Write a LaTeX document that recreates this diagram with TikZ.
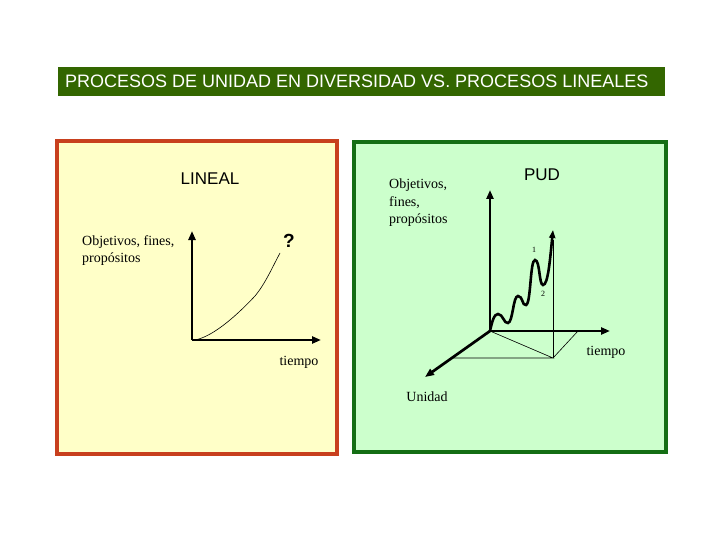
\documentclass[tikz,border=0pt]{standalone}
\usepackage{fontspec}
\setmainfont{Liberation Serif}
\newfontfamily\arialf{Liberation Sans}
\usetikzlibrary{arrows.meta}
\definecolor{titlegreen}{RGB}{51,102,0}
\definecolor{lyellow}{RGB}{255,255,200}
\definecolor{redborder}{RGB}{200,64,30}
\definecolor{lgreen}{RGB}{204,255,204}
\definecolor{dgreen}{RGB}{20,110,20}
\tikzset{
  axis/.style={line width=2.7pt,-{Triangle[length=9pt,width=7pt]}},
  thinline/.style={line width=0.6pt},
  serif/.style={font=\fontsize{14}{17.5}\selectfont, inner sep=0pt},
  sans/.style={font=\arialf\fontsize{17}{19}\selectfont, inner sep=0pt},
  tiny/.style={font=\fontsize{8}{9}\selectfont, inner sep=0pt}
}
\begin{document}
\begin{tikzpicture}[x=1pt,y=-1pt]
\useasboundingbox (0,0) rectangle (720,540);
\fill[white] (0,0) rectangle (720,540);
% title
\node[fill=titlegreen, minimum width=607pt, minimum height=29pt, anchor=north west, inner sep=0pt] (titlebar) at (58,67) {};
\node[anchor=west, text=white, font=\arialf\fontsize{18}{20}\selectfont, inner sep=0pt] (title) at (65,81.5) {PROCESOS DE UNIDAD EN DIVERSIDAD VS. PROCESOS LINEALES};
% boxes
\draw[redborder, fill=lyellow, line width=4pt] (57,141) rectangle (337,454);
\draw[dgreen, fill=lgreen, line width=4pt] (354,142) rectangle (666,452);
% left chart
\node[sans] (lineal) at (210,179) {LINEAL};
\coordinate (LO) at (192,340);
\coordinate (LY) at (192,231);
\coordinate (LX) at (321,340);
\draw[axis] (LO) -- (LY);
\draw[axis] (LO) -- (LX);
\draw[thinline] (195,340) .. controls (215,336) and (240,312) .. (255,296) .. controls (265,284) and (272,268) .. (280,253);
\node[font=\arialf\bfseries\fontsize{19}{21}\selectfont, inner sep=0pt] (q) at (289,241) {?};
\node[serif, anchor=north west, align=left] (lobj) at (82,235) {Objetivos, fines,\\propósitos};
\node[serif] (ltiempo) at (299,362) {tiempo};
% right chart
\node[sans] (pud) at (542,175) {PUD};
\node[serif, anchor=north west, align=left] (robj) at (389,179) {Objetivos,\\fines,\\propósitos};
\coordinate (O) at (490,331);
\coordinate (RY) at (490,190);
\coordinate (RX) at (610,331);
\coordinate (RU) at (425,377);
\coordinate (F) at (553,358);
\coordinate (FL) at (453,358);
\coordinate (FR) at (578,331);
\coordinate (T) at (553,230);
\draw[thinline] (O) -- (F) -- (FL);
\draw[thinline] (F) -- (FR);
\draw[thinline] (F) -- (553,240);
\draw[axis] (O) -- (RY);
\draw[axis] (O) -- (RX);
\draw[axis] (O) -- (RU);
\draw[line width=2.6pt, -{Triangle[length=8pt,width=6pt]}]
  (O) .. controls (492,322) and (494,314) .. (498,314)
      .. controls (503,314) and (504,324) .. (508,323)
      .. controls (513,322) and (513,296) .. (518,296)
      .. controls (523,296) and (522,306) .. (526,305)
      .. controls (531,304) and (530,260) .. (535,260)
      .. controls (540,260) and (539,285) .. (543,285)
      .. controls (548,285) and (550,260) .. (T);
\node[tiny] (n1) at (534,250) {1};
\node[tiny] (n2) at (543,294) {2};
\node[serif] (rtiempo) at (606,352) {tiempo};
\node[serif] (unidad) at (427,397) {Unidad};
\end{tikzpicture}
\end{document}
